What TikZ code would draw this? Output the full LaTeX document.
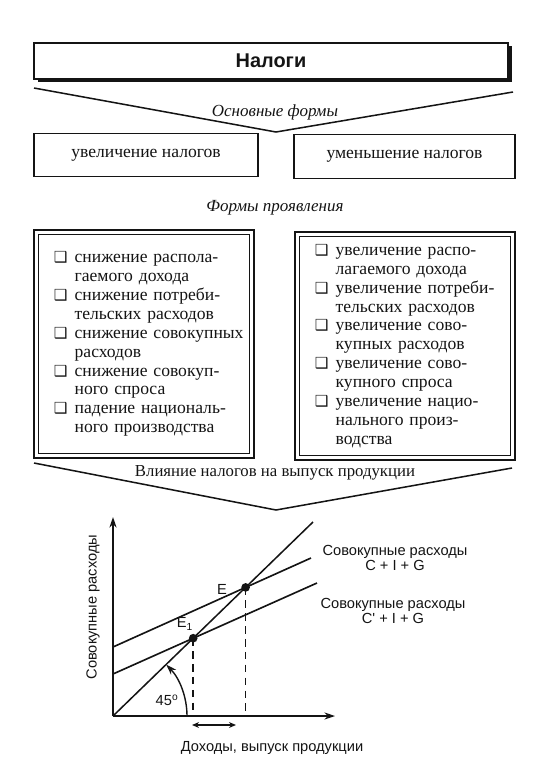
\documentclass[tikz,border=0pt]{standalone}
\usepackage{fontspec}
\setmainfont{Liberation Serif}
\newfontfamily\gfont{Liberation Sans}
\newfontfamily\symfont{DejaVu Sans}
\usetikzlibrary{arrows.meta,positioning,calc,shadows}
\definecolor{ink}{RGB}{20,20,20}
\newcommand{\chkbox}{{\symfont\fontsize{13}{13}\selectfont ❑}}
\tikzset{
  ttlblk/.style={rectangle,draw=ink,fill=white,line width=1.3pt,
    minimum width=14.22cm,minimum height=1.08cm,inner sep=0pt,
    font=\gfont\bfseries\fontsize{17}{20}\selectfont,text=ink,
    drop shadow={shadow xshift=3.5pt,shadow yshift=-2.5pt,opacity=1,fill=ink}},
  frmblk/.style={rectangle,draw=ink,line width=1.2pt,minimum height=1.3cm,
    minimum width=6.7cm,inner sep=0pt,font=\fontsize{15}{16}\selectfont,text=ink},
  lstblk/.style={rectangle,draw=ink,line width=1.4pt,
    minimum width=6.6cm,minimum height=6.84cm,text width=5.4cm,
    inner xsep=0.6cm,inner ysep=0pt,align=left,
    font=\fontsize{15}{16.1}\selectfont,text=ink},
  lbl/.style={font=\fontsize{14.3}{17}\selectfont,text=ink},
  chev/.style={line width=1.3pt,color=ink},
  axs/.style={-{Stealth[length=9pt,width=6pt]},line width=1.2pt,color=ink},
  crv/.style={line width=1.4pt,color=ink},
  dsh/.style={line width=1.3pt,dash pattern=on 6.5pt off 4.5pt,color=ink},
  glbl/.style={font=\gfont\fontsize{12.5}{13.5}\selectfont,align=center,text=ink},
  pnt/.style={circle,fill=ink,inner sep=0pt,minimum size=0.26cm},
}

\begin{document}
\begin{tikzpicture}[x=0.03cm,y=-0.03cm]
  \useasboundingbox (0,0) rectangle (540,776);
  % title
  \node[ttlblk] (ttl) at (271,61) {Налоги};
  % upper chevron
  \coordinate (chAl) at (34,88);
  \coordinate (chAm) at (276,132);
  \coordinate (chAr) at (513,92);
  \draw[chev] (chAl) -- (chAm) -- (chAr);
  \node[lbl,font=\itshape\fontsize{14.5}{17}\selectfont] (osn) at (275,112) {Основные формы};
  % main forms
  \node[frmblk,minimum width=6.72cm,minimum height=1.29cm] (incr) at (146,155) {увеличение налогов};
  \node[frmblk,minimum width=6.63cm,minimum height=1.32cm] (decr) at (404.5,156.5) {уменьшение налогов};
  \node[lbl,font=\itshape\fontsize{14.5}{17}\selectfont] (frm) at (275,208) {Формы проявления};
  % left list
  \node[lstblk] (lstL) at (144,344) {%
    \begin{tabular}{@{}l@{\hspace{6pt}}l@{}}
      \chkbox & снижение распола-\\
              & гаемого дохода\\
      \chkbox & снижение потреби-\\
              & тельских расходов\\
      \chkbox & снижение совокупных\\
              & расходов\\
      \chkbox & снижение совокуп-\\
              & ного спроса\\
      \chkbox & падение националь-\\
              & ного производства
    \end{tabular}};
  \draw[line width=0.8pt,ink] ($(lstL.south west)+(5,-5)$) rectangle ($(lstL.north east)+(-5,5)$);
  % right list
  \node[lstblk] (lstR) at (405,346) {%
    \begin{tabular}{@{}l@{\hspace{6pt}}l@{}}
      \chkbox & увеличение распо-\\
              & лагаемого дохода\\
      \chkbox & увеличение потреби-\\
              & тельских расходов\\
      \chkbox & увеличение сово-\\
              & купных расходов\\
      \chkbox & увеличение сово-\\
              & купного спроса\\
      \chkbox & увеличение нацио-\\
              & нального произ-\\
              & водства
    \end{tabular}};
  \draw[line width=0.8pt,ink] ($(lstR.south west)+(5,-5)$) rectangle ($(lstR.north east)+(-5,5)$);
  % lower chevron
  \coordinate (chBl) at (34,463);
  \coordinate (chBm) at (276,510);
  \coordinate (chBr) at (512,468);
  \draw[chev] (chBl) -- (chBm) -- (chBr);
  \node[lbl] (vlv) at (275,473) {Влияние налогов на выпуск продукции};
  % graph
  \coordinate (O) at (113,716);
  \coordinate (yend) at (113,517);
  \coordinate (xend) at (335,716);
  \coordinate (d45) at (313,522);
  \coordinate (aA) at (113,647);
  \coordinate (aB) at (311,558);
  \coordinate (bA) at (113,674);
  \coordinate (bB) at (317,583);
  \coordinate (E) at (245.6,587.4);
  \coordinate (E1) at (193.2,638.2);
  \draw[axs] (O) -- (yend);
  \draw[axs] (O) -- (xend);
  \draw[crv,line width=1.3pt] (O) -- (d45);
  \draw[crv] (aA) -- (aB);
  \draw[crv] (bA) -- (bB);
  \draw[dsh] (E) -- (E |- O);
  \draw[dsh] (E1) -- (E1 |- O);
  \node[pnt] (pE) at (E) {};
  \node[pnt] (pE1) at (E1) {};
  \node[glbl] (lE) at (222,589) {E};
  \node[glbl] (lE1) at (185,624) {E\textsubscript{1}};
  % 45 deg arc
  \draw[-{Stealth[length=9pt,width=6pt]},line width=1.2pt,ink] ($(O)+(74,0)$) arc[start angle=0,end angle=-44,radius=74];
  \node[glbl] (l45) at (167,700) {45\textsuperscript{o}};
  % shift of output
  \coordinate (sA) at (192,725);
  \coordinate (sB) at (236,725);
  \draw[{Stealth[length=6pt,width=5pt]}-{Stealth[length=6pt,width=5pt]},line width=1pt,ink] (sA) -- (sB);
  % labels
  \node[glbl,rotate=90] (ylbl) at (93,607) {Совокупные расходы};
  \node[glbl] (xlbl) at (272,748) {Доходы, выпуск продукции};
  \node[glbl] (cig) at (395,558) {Совокупные расходы\\C + I + G};
  \node[glbl] (cig2) at (393,611) {Совокупные расходы\\C\textquotesingle{} + I + G};
\end{tikzpicture}
\end{document}
